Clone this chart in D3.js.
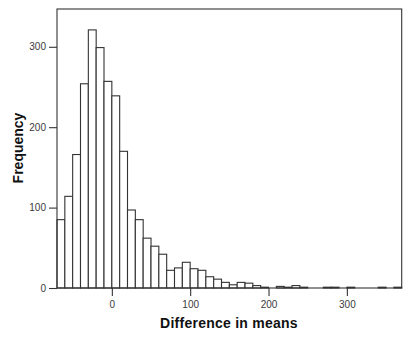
<!DOCTYPE html>
<html>
<head>
<meta charset="utf-8">
<script src="https://cdn.jsdelivr.net/npm/d3@7"></script>
<style>
  html, body { margin: 0; padding: 0; background: #fff; }
  svg { display: block; }
  text { font-family: "Liberation Sans", Arial, sans-serif; }
</style>
</head>
<body>
<svg id="chart" width="412" height="344"></svg>
<script>
// Histogram of the difference in means, bins of width 10
const binStarts = [-70, -60, -50, -40, -30, -20, -10, 0, 10, 20, 30, 40, 50, 60, 70, 80, 90,
  100, 110, 120, 130, 140, 150, 160, 170, 180, 190, 200, 210, 220, 230, 240, 250, 260, 270,
  280, 290, 300, 310, 320, 330, 340, 350, 360];
const frequencies = [85, 114, 166, 254, 321, 299, 257, 239, 170, 97, 85, 62, 52, 42, 22, 25, 32,
  24, 22, 14, 11, 7, 4, 7, 6, 3, 1, 0, 2, 1, 3, 1, 0, 0, 1,
  1, 0, 1, 0, 0, 0, 1, 0, 1];
const binWidth = 10;
const xTicks = [0, 100, 200, 300];
const yTicks = [0, 100, 200, 300];

const svg = d3.select("#chart");
const plotLeft = 57, plotRight = 401.7, plotTop = 9, plotBottom = 288;
const ink = "#333";

const x = d3.scaleLinear().domain([-70, 370]).range([plotLeft, plotRight]);
const y = d3.scaleLinear().domain([0, 347]).range([plotBottom, plotTop]);

const bins = binStarts.map((s, i) => ({ x0: s, x1: s + binWidth, n: frequencies[i] }));

svg.append("g")
  .selectAll("rect")
  .data(bins)
  .join("rect")
  .attr("x", d => x(d.x0))
  .attr("width", d => x(d.x1) - x(d.x0))
  .attr("y", d => y(d.n))
  .attr("height", d => y(0) - y(d.n))
  .attr("fill", "#fff")
  .attr("stroke", ink)
  .attr("stroke-width", 1.1);

// plot frame
svg.append("rect")
  .attr("x", plotLeft).attr("y", plotTop)
  .attr("width", plotRight - plotLeft).attr("height", plotBottom - plotTop)
  .attr("fill", "none").attr("stroke", ink).attr("stroke-width", 1.1);

const yAxis = svg.append("g")
  .attr("transform", `translate(${plotLeft},0)`)
  .call(d3.axisLeft(y).tickValues(yTicks).tickSize(8).tickPadding(3));
const xAxis = svg.append("g")
  .attr("transform", `translate(0,${plotBottom})`)
  .call(d3.axisBottom(x).tickValues(xTicks).tickSize(8).tickPadding(5));

[yAxis, xAxis].forEach(g => {
  g.select(".domain").remove();
  g.selectAll("line").attr("stroke", ink).attr("stroke-width", 1.1);
  g.selectAll("text")
    .attr("fill", "#3a3a3a")
    .style("font-size", "10px")
    .style("font-family", "'Liberation Sans', Arial, sans-serif");
});

svg.append("text")
  .attr("x", 229).attr("y", 328)
  .attr("text-anchor", "middle")
  .style("font-size", "14px").style("font-weight", "bold")
  .style("letter-spacing", "0.25px")
  .attr("fill", "#111")
  .text("Difference in means");

svg.append("text")
  .attr("transform", "translate(23,148) rotate(-90)")
  .attr("text-anchor", "middle")
  .style("font-size", "14px").style("font-weight", "bold")
  .attr("fill", "#111")
  .text("Frequency");
</script>
</body>
</html>
